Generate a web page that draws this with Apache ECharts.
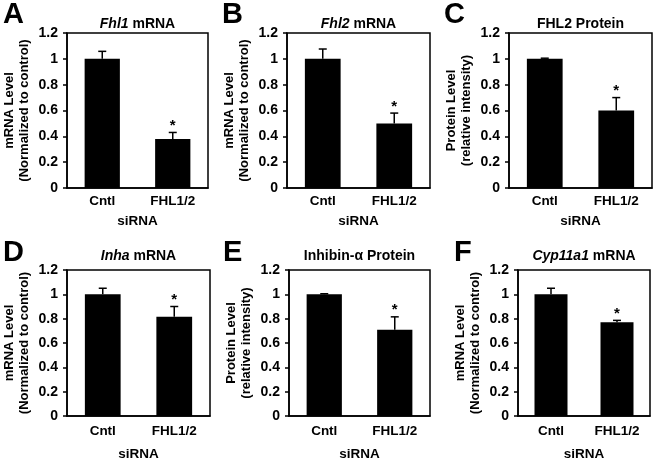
<!DOCTYPE html>
<html><head><meta charset="utf-8">
<script src="https://cdn.jsdelivr.net/npm/echarts@6/dist/echarts.min.js"></script>
<style>html,body{margin:0;padding:0;background:#fff}#c{width:667px;height:462px}</style>
</head><body><div id="c"></div>
<script>
// ---- data ----
const categories = ['Cntl', 'FHL1/2'];
const xAxisTitle = 'siRNA';
const panelLetters = ['A', 'B', 'C', 'D', 'E', 'F'];
const titleItalic = ['Fhl1', 'Fhl2', '', 'Inha', '', 'Cyp11a1'];
const titlePlain = [' mRNA', ' mRNA', 'FHL2 Protein', ' mRNA', 'Inhibin-α Protein', ' mRNA'];
const yNameMRNA = 'mRNA Level\n(Normalized to control)';
const yNameProtein = 'Protein Level\n(relative intensity)';
const yNames = [yNameMRNA, yNameMRNA, yNameProtein, yNameMRNA, yNameProtein, yNameMRNA];
const meansA = [1.0, 0.38];  const errA = [0.058, 0.05];
const meansB = [1.0, 0.50];  const errB = [0.076, 0.08];
const meansC = [1.0, 0.60];  const errC = [0.005, 0.10];
const meansD = [1.0, 0.815]; const errD = [0.05, 0.085];
const meansE = [1.0, 0.708]; const errE = [0.005, 0.107];
const meansF = [1.0, 0.77];  const errF = [0.05, 0.016];
const significant = [false, true];
const yMin = 0, yMax = 1.2, yStep = 0.2;

const allMeans = [meansA, meansB, meansC, meansD, meansE, meansF];
const allErrs = [errA, errB, errC, errD, errE, errF];

// ---- layout ----
const FONT = 'Liberation Sans, Arial, sans-serif';
const boxes = [
  {left: 67, width: 141, top: 33, height: 155},
  {left: 287, width: 143, top: 33, height: 155},
  {left: 509, width: 143, top: 33, height: 155},
  {left: 67, width: 143, top: 270, height: 153},
  {left: 289, width: 141, top: 270, height: 153},
  {left: 518, width: 132, top: 270, height: 153}
];
const letterPos = [[3, 15], [222, 15], [444, 15], [3, 253], [223, 253], [454, 253]];

const grid = [], xAxis = [], yAxis = [], series = [], graphic = [];
boxes.forEach((b, i) => {
  const top = i < 3;
  grid.push({left: b.left, top: b.top, width: b.width, height: b.height, show: true,
    borderColor: '#000', borderWidth: 1.5, backgroundColor: 'transparent'});
  xAxis.push({type: 'category', gridIndex: i, data: categories,
    axisLine: {lineStyle: {color: '#000', width: 1.5}}, axisTick: {show: false},
    axisLabel: {color: '#000', fontSize: 13.5, fontWeight: 'bold', fontFamily: FONT, margin: top ? 6 : 8},
    name: xAxisTitle, nameLocation: 'middle', nameGap: top ? 26 : 31,
    nameTextStyle: {color: '#000', fontSize: 13.5, fontWeight: 'bold', fontFamily: FONT}});
  yAxis.push({type: 'value', gridIndex: i, min: yMin, max: yMax, interval: yStep,
    axisLine: {show: true, lineStyle: {color: '#000', width: 1.5}},
    axisTick: {show: true, length: 4, lineStyle: {color: '#000', width: 1.5}},
    splitLine: {show: false},
    axisLabel: {color: '#000', fontSize: 14, fontWeight: 'bold', fontFamily: FONT, margin: 9,
      formatter: v => String(Math.round(v * 10) / 10)},
    name: yNames[i], nameLocation: 'middle', nameGap: 35,
    nameTextStyle: {color: '#000', fontSize: 13, fontWeight: 'bold', fontFamily: FONT, lineHeight: 15}});
  series.push({type: 'bar', xAxisIndex: i, yAxisIndex: i, barWidth: '50%',
    itemStyle: {color: '#000'}, data: allMeans[i], silent: true});
  series.push({type: 'custom', xAxisIndex: i, yAxisIndex: i, z: 5, silent: true,
    data: allMeans[i].map((m, k) => [k, m, allErrs[i][k], significant[k] ? 1 : 0]),
    renderItem: (params, api) => {
      const x = api.value(0), m = api.value(1), e = api.value(2);
      const p0 = api.coord([x, m]);
      const p1 = api.coord([x, m + e]);
      const st = {stroke: '#000', lineWidth: 1.5};
      const children = [
        {type: 'line', shape: {x1: p0[0], y1: p0[1], x2: p1[0], y2: p1[1]}, style: st},
        {type: 'line', shape: {x1: p1[0] - 4, y1: p1[1], x2: p1[0] + 4, y2: p1[1]}, style: st}
      ];
      if (api.value(3)) {
        children.push({type: 'text', x: p1[0], y: p1[1] + 1,
          style: {text: '*', fill: '#000', font: 'bold 15px ' + FONT, align: 'center', verticalAlign: 'bottom'}});
      }
      return {type: 'group', children};
    }});
  const cx = b.left + b.width / 2;
  const ty = top ? 24 : 256;
  const txt = titleItalic[i] ? '{i|' + titleItalic[i] + '}{n|' + titlePlain[i] + '}' : '{n|' + titlePlain[i] + '}';
  graphic.push({type: 'text', x: cx, y: ty, silent: true,
    style: {text: txt, align: 'center', verticalAlign: 'middle', fill: '#000',
      rich: {
        i: {fontStyle: 'italic', fontWeight: 'bold', fontSize: 14, fontFamily: FONT, fill: '#000'},
        n: {fontWeight: 'bold', fontSize: 14, fontFamily: FONT, fill: '#000'}
      }}});
  graphic.push({type: 'text', x: letterPos[i][0], y: letterPos[i][1], silent: true,
    style: {text: panelLetters[i], fill: '#000', font: 'bold 29px ' + FONT, align: 'left', verticalAlign: 'middle'}});
});

const chart = echarts.init(document.getElementById('c'), null, {renderer: 'canvas'});
chart.setOption({animation: false, backgroundColor: '#fff', grid, xAxis, yAxis, series, graphic});
</script>
</body></html>
